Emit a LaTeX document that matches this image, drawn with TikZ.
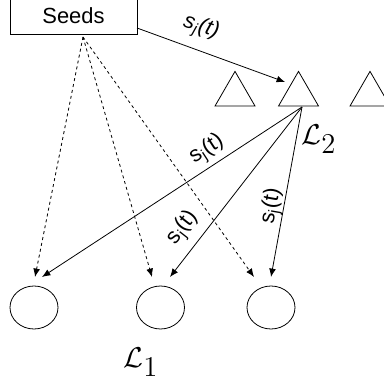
\documentclass[tikz,border=0pt]{standalone}
\usepackage{fontspec}
\setmainfont{Liberation Sans}
\usetikzlibrary{calc,shapes.geometric,arrows.meta}
\tikzset{
  tri/.style={draw, regular polygon, regular polygon sides=3, minimum size=23.1bp, inner sep=0pt, outer sep=0pt},
  blob/.style={draw, ellipse, minimum width=24bp, minimum height=21.5bp, inner sep=0pt},
  lbl/.style={inner sep=0pt, font=\fontsize{11}{13}\selectfont},
  layer/.style={inner sep=0pt, font=\fontsize{14}{17}\selectfont},
  seedline/.style={-{Latex[length=4.2bp, width=3.4bp]}, dash pattern=on 1.5bp off 1.5bp},
  sendline/.style={-{Latex[length=4.2bp, width=3.4bp]}}
}
\begin{document}
\begin{tikzpicture}[x=0.5bp, y=-0.5bp]
		%%%%% START %%%%%
		\useasboundingbox (0,0) rectangle (384,383);
		
		\node[draw, minimum width=63.5bp, minimum height=18bp, inner sep=0pt, font=\fontsize{11}{13}\selectfont] (seeds) at (73.5,16) {Seeds};
		
		\node[tri] (tri1) at (235,94.5) {};
		\node[tri] (tri2) at (298.5,94.5) {};
		\node[tri] (tri3) at (370,94.5) {};
		
		\node[blob] (blob1) at (34,307.5) {};
		\node[blob] (blob2) at (160.5,307.5) {};
		\node[blob] (blob3) at (271,307.5) {};
		
		\coordinate (seedsr) at (137,28);
		\coordinate (seedsb) at (83,37);
		\coordinate (tin) at (285,82);
		\coordinate (fan) at (302,107);
		\coordinate (din1) at (35,277);
		\coordinate (din2) at (152,277);
		\coordinate (din3) at (254,277);
		\coordinate (sin1) at (42,277);
		\coordinate (sin2) at (170,277);
		\coordinate (sin3) at (271,277);
		
		\draw[sendline] (seedsr) -- (tin);
		\node[lbl, rotate=-18] (lbltop) at (201,28) {\textit{s\textsubscript{j}(t)}};
		
		\draw[seedline] (seedsb) -- (din1);
		\draw[seedline] (seedsb) -- (din2);
		\draw[seedline] (seedsb) -- (din3);
		
		\draw[sendline] (fan) -- (sin1);
		\draw[sendline] (fan) -- (sin2);
		\draw[sendline] (fan) -- (sin3);
		
		\node[lbl, rotate=33] (lbl1) at (207,150) {s\textsubscript{j}(t)};
		\node[lbl, rotate=52] (lbl2) at (183,228) {s\textsubscript{j}(t)};
		\node[lbl, rotate=80] (lbl3) at (272,206) {s\textsubscript{j}(t)};
		
		\node[layer] (ltwo) at (319,139) {$\mathcal{L}_{\textstyle 2}$};
		\node[layer] (lone) at (141,362) {$\mathcal{L}_{\textstyle 1}$};
		
		%%%%% END %%%%%
\end{tikzpicture}
\end{document}
